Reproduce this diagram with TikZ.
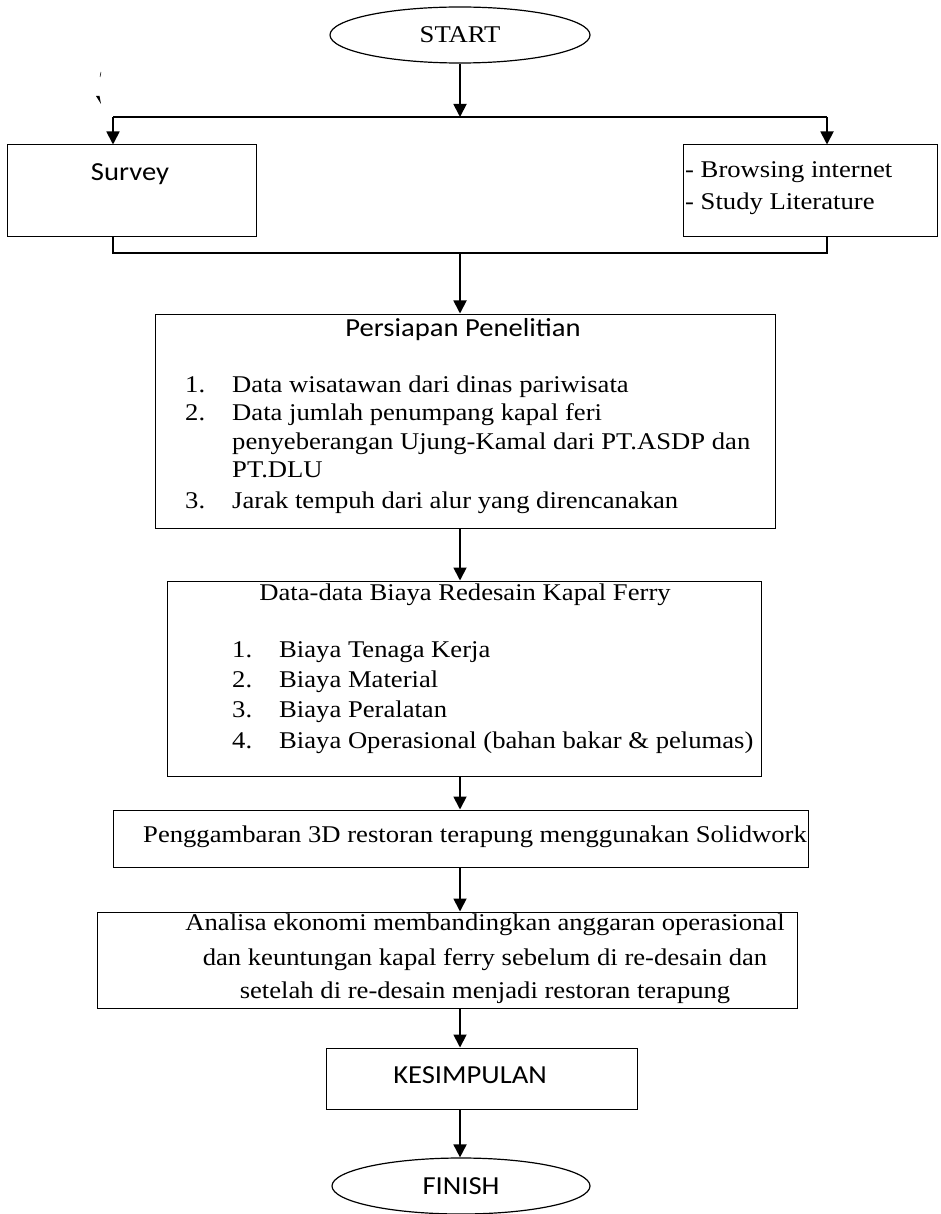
\documentclass[tikz,border=0pt]{standalone}
\usepackage{fontspec}
\setmainfont[FakeStretch=1.11]{Liberation Serif}
\newfontfamily\calfont[FakeStretch=1.1]{Carlito}
\usetikzlibrary{shapes.geometric,arrows.meta}
\begin{document}
\begin{tikzpicture}[x=1pt,y=-1pt,
  box/.style={draw, line width=1pt, inner sep=0pt},
  oval/.style={draw, ellipse, line width=1.2pt, inner sep=0pt, minimum width=260pt, minimum height=56pt, font=\fontsize{24}{29}\selectfont},
  txt/.style={inner sep=0pt, font=\fontsize{24}{29}\selectfont, text height=16pt, text depth=5pt},
  ctxt/.style={inner sep=0pt, font=\calfont\fontsize{26}{31}\selectfont, text height=17pt, text depth=5pt},
  link/.style={line width=1.4pt},
  arr/.style={line width=1.8pt, -{Triangle[length=13pt,width=13pt]}}
]
\useasboundingbox (0,0) rectangle (941,1214);
\coordinate (ax) at (460,0);

% start
\node[oval] (start) at (460,35) {START};

% split
\coordinate (split) at (460,117);
\coordinate (sl) at (113,117);
\coordinate (sr) at (827,117);

\node[box, minimum width=249pt, minimum height=92pt] (survey) at (131.5,191) {};
\node[box, minimum width=254pt, minimum height=92pt] (browse) at (810,191) {};
\node[ctxt] (surveyt) at (130,175) {Survey};
\node[txt, anchor=west] (b1) at (685,172) {- Browsing internet};
\node[txt, anchor=west] (b2) at (685,204) {- Study Literature};

\draw[arr] (start.south) -- (split);
\draw[link] (sl) -- (sr);
\draw[arr] (sl) -- (sl |- survey.north);
\draw[arr] (sr) -- (sr |- browse.north);

% join
\coordinate (jl) at (113,253);
\coordinate (jr) at (827,253);
\coordinate (jm) at (460,253);
\draw[link] (sl |- survey.south) -- (jl) -- (jr) -- (sr |- browse.south);

% persiapan
\node[box, minimum width=620pt, minimum height=214pt] (pers) at (465,421) {};
\node[ctxt] (perst) at (463,330) {Persiapan Penelitian};
\node[txt, anchor=west] (p1n) at (185,387) {1.};
\node[txt, anchor=west] (p1) at (232,387) {Data wisatawan dari dinas pariwisata};
\node[txt, anchor=west] (p2n) at (185,415) {2.};
\node[txt, anchor=west] (p2) at (232,415) {Data jumlah penumpang kapal feri};
\node[txt, anchor=west] (p2b) at (232,444) {penyeberangan Ujung-Kamal dari PT.ASDP dan};
\node[txt, anchor=west] (p2c) at (232,472) {PT.DLU};
\node[txt, anchor=west] (p3n) at (185,503) {3.};
\node[txt, anchor=west] (p3) at (232,503) {Jarak tempuh dari alur yang direncanakan};
\draw[arr] (jm) -- (pers.north -| ax);

% data
\node[box, minimum width=594pt, minimum height=195pt] (data) at (464,678.5) {};
\node[txt] (datat) at (465,595) {Data-data Biaya Redesain Kapal Ferry};
\node[txt, anchor=west] (d1n) at (232,652) {1.};
\node[txt, anchor=west] (d1) at (279,652) {Biaya Tenaga Kerja};
\node[txt, anchor=west] (d2n) at (232,682) {2.};
\node[txt, anchor=west] (d2) at (279,682) {Biaya Material};
\node[txt, anchor=west] (d3n) at (232,712) {3.};
\node[txt, anchor=west] (d3) at (279,712) {Biaya Peralatan};
\node[txt, anchor=west] (d4n) at (232,743) {4.};
\node[txt, anchor=west] (d4) at (279,743) {Biaya Operasional (bahan bakar \& pelumas)};
\draw[arr] (pers.south -| ax) -- (data.north -| ax);

% penggambaran
\node[box, minimum width=695pt, minimum height=57pt] (peng) at (460.5,838.5) {};
\node[txt, anchor=west] (pengt) at (143,837) {Penggambaran 3D restoran terapung menggunakan Solidwork};
\draw[arr] (data.south -| ax) -- (peng.north -| ax);

% analisa
\node[box, minimum width=700pt, minimum height=96pt] (anal) at (447,960) {};
\node[txt] (a1) at (485,925) {Analisa ekonomi membandingkan anggaran operasional};
\node[txt] (a2) at (485,960) {dan keuntungan kapal ferry sebelum di re-desain dan};
\node[txt] (a3) at (485,993) {setelah di re-desain menjadi restoran terapung};
\draw[arr] (peng.south -| ax) -- (anal.north -| ax);

% kesimpulan
\node[box, minimum width=311pt, minimum height=61pt] (kes) at (481.5,1078.5) {};
\node[ctxt] (kest) at (470,1077) {KESIMPULAN};
\draw[arr] (anal.south -| ax) -- (kes.north -| ax);

% finish
\node[oval, minimum width=258pt, font=\calfont\fontsize{26}{31}\selectfont] (finish) at (461,1186) {FINISH};
\draw[arr] (kes.south -| ax) -- (finish.north -| ax);

% stray marks
\draw[line width=0.5pt] (101,72) -- (100,77);
\fill (96,96) -- (99.5,96) -- (101,104) -- cycle;
\end{tikzpicture}
\end{document}
